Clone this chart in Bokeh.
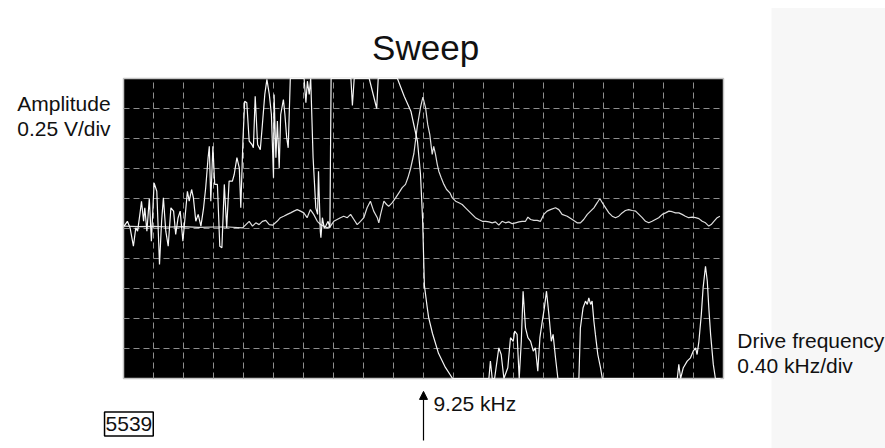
from bokeh.plotting import figure
from bokeh.models import Range1d, Label, Arrow, NormalHead
from bokeh.embed import file_html
from bokeh.resources import INLINE

# ---- data (screen divisions: x 0..20 at 0.40 kHz/div, centre x=10 is 9.25 kHz;
#      y -5..5 at 0.25 V/div) ----
drive_x = [0.02, 0.13, 0.22, 0.33, 0.41, 0.47, 0.56, 0.60, 0.67, 0.71, 0.78, 0.86, 0.93, 1.02,
           1.11, 1.20, 1.27, 1.33, 1.41, 1.49, 1.58, 1.67, 1.74, 1.82, 1.89, 1.98, 2.04, 2.13,
           2.19, 2.27, 2.33, 2.41, 2.49, 2.58, 2.67, 2.74, 2.82, 2.86, 2.91, 2.98, 3.04, 3.13,
           3.21, 3.28, 3.36, 3.44, 3.52, 3.63, 3.69, 3.78, 3.86, 3.91, 3.98, 4.04, 4.11, 4.19,
           4.28, 4.33, 4.39, 4.47, 4.56, 4.63, 4.71, 4.78, 4.86, 4.93, 5.00,
           5.02, 5.08, 5.13, 5.19, 5.24, 5.33, 5.38, 5.44, 5.49, 5.56, 6.02, 6.08, 6.13, 6.19,
           6.24, 6.32, 6.41, 6.47, 6.50, 6.56, 6.58, 6.63, 6.69, 6.74, 6.82, 6.88, 6.92, 7.58,
           7.63, 7.69, 8.19, 8.44, 8.49, 9.13, 9.36, 9.58, 9.69, 9.80, 9.90, 9.97, 10.00, 10.03,
           10.12, 10.17, 10.30, 10.50, 10.73, 10.97,
           12.18, 12.23, 12.29, 12.37, 12.51, 12.59, 12.68, 12.81, 12.90, 12.99, 13.04, 13.12,
           13.19, 13.26, 13.32, 13.40, 13.48, 13.57, 13.66, 13.73, 13.81, 13.88, 13.96, 14.03,
           14.10, 14.18, 14.26, 14.32, 14.40, 14.48,
           15.18, 15.23, 15.32, 15.40, 15.46, 15.51, 15.57, 15.62, 15.68, 15.73, 15.81, 15.90,
           15.96, 18.46, 18.51, 18.57, 18.66, 18.79, 18.90, 18.99, 19.07, 19.12, 19.18, 19.26,
           19.32, 19.40, 19.46, 19.51, 19.57, 19.66, 19.73, 19.90]
drive_y = [0.08, 0.24, 0.02, -0.59, 0.02, -0.09, 0.58, 0.91, 0.24, 0.69, -0.09, 1.00, -0.42, 1.52,
           1.24, -1.20, 0.24, 1.02, -0.09, -0.59, 0.69, 0.58, -0.20, 0.36, 0.58, -0.42, 0.24, 1.24,
           0.91, 1.30, 1.02, 0.24, 0.47, 0.08, 0.69, 1.36, 2.36, 2.74, 0.91, 2.74, 1.47, 1.47,
           -0.59, -0.64, 1.47, 0.02, 1.58, 1.58, 1.80, 2.36, 2.02, 0.69, 2.91, 4.24, 4.19, 2.91,
           2.80, 2.69, 4.41, 2.80, 2.63, 3.47, 4.47, 4.97, 4.47, 3.80, 1.69,
           4.47, 2.36, 3.58, 2.02, 3.80, 4.30, 3.80, 3.02, 2.69, 5.00, 5.00, 4.19, 4.91, 4.47,
           5.00, 2.36, 0.69, 0.47, 1.91, -0.09, -0.31, 0.36, 0.02, 0.08, 0.24, 0.02, 5.00, 5.00,
           4.10, 5.00, 5.00, 4.00, 5.00, 5.00, 4.40, 3.91, 3.40, 2.90, 1.80, 0.30, -0.80, -1.90,
           -2.60, -2.96, -3.50, -4.16, -4.63, -5.00,
           -5.00, -4.42, -5.00, -5.00, -3.98, -4.20, -5.00, -4.64, -3.64, -3.76, -3.42, -3.53,
           -5.00, -3.76, -2.09, -3.31, -3.64, -3.76, -4.09, -3.98, -4.76, -3.64, -3.09, -2.64,
           -2.09, -2.87, -3.76, -3.53, -4.31, -5.00,
           -5.00, -3.31, -2.64, -2.42, -2.53, -2.31, -2.53, -2.42, -3.09, -3.53, -4.20, -4.64,
           -5.00, -5.00, -4.53, -5.00, -4.64, -4.42, -4.31, -4.09, -3.98, -4.20, -3.76, -2.87,
           -1.98, -1.26, -1.76, -2.64, -3.53, -4.53, -5.00, -5.00]

resp_x = [0.00, 0.50, 1.00, 1.50, 2.00, 2.50, 3.00, 3.50, 3.97, 4.08, 4.19, 4.30, 4.41, 4.52,
          4.63, 4.74, 4.86, 4.97, 5.12, 5.23, 5.34, 5.46, 5.57, 5.68, 5.79, 5.90, 6.01, 6.12,
          6.23, 6.34, 6.46, 6.57, 6.68, 6.79, 6.90, 7.01, 7.12, 7.23, 7.34, 7.46, 7.57, 7.68,
          7.79, 7.90, 8.01, 8.12, 8.23, 8.34, 8.46, 8.51, 8.57, 8.68, 8.77, 8.84, 8.96, 9.07,
          9.18, 9.29, 9.40, 9.48, 9.57, 9.68, 9.79, 9.90, 9.98,
          10.07, 10.14, 10.21, 10.29, 10.34, 10.40, 10.46, 10.51, 10.59, 10.68, 10.77, 10.88,
          10.96, 11.07, 11.18, 11.29, 11.40, 11.51, 11.62, 11.73, 11.84, 11.96, 12.07, 12.18,
          12.29, 12.40, 12.51, 12.62, 12.73, 12.84, 12.96, 13.07, 13.18, 13.29, 13.40, 13.48,
          13.57, 13.68, 13.79, 13.90, 14.01, 14.12, 14.23, 14.40, 14.51, 14.62, 14.79, 14.96,
          15.12, 15.23, 15.34, 15.46, 15.57, 15.68, 15.79, 15.88, 15.96, 16.07, 16.18, 16.29,
          16.40, 16.51, 16.62, 16.73, 16.84, 16.96, 17.07, 17.18, 17.29, 17.40, 17.51, 17.62,
          17.73, 17.84, 17.96, 18.07, 18.18, 18.29, 18.40, 18.51, 18.62, 18.73, 18.84, 18.96,
          19.07, 19.18, 19.29, 19.40, 19.51, 19.59, 19.68, 19.79, 19.88]
resp_y = [0.08, 0.06, 0.07, 0.05, 0.06, 0.04, 0.05, 0.05, 0.02, 0.13, 0.24, 0.08, 0.19, 0.13,
          0.24, 0.27, 0.13, 0.11, 0.24, 0.36, 0.41, 0.47, 0.52, 0.58, 0.63, 0.58, 0.52, 0.36,
          0.63, 0.47, 0.24, 0.13, 0.08, 0.02, 0.08, 0.24, 0.30, 0.36, 0.41, 0.36, 0.47, 0.30,
          0.13, 0.24, 0.36, 0.69, 0.91, 0.58, 0.36, 0.19, 0.47, 0.91, 0.80, 0.74, 0.86, 1.02,
          1.19, 1.36, 1.47, 1.69, 2.00, 2.50, 3.38, 4.04, 4.38,
          4.02, 3.47, 3.13, 2.47, 2.74, 2.47, 2.13, 1.91, 1.69, 1.47, 1.30, 1.19,
          1.02, 0.91, 0.86, 0.80, 0.69, 0.58, 0.47, 0.36, 0.30, 0.24, 0.24, 0.22,
          0.19, 0.22, 0.11, 0.24, 0.19, 0.22, 0.16, 0.19, 0.22, 0.24, 0.24, 0.38,
          0.30, 0.27, 0.27, 0.24, 0.47, 0.58, 0.63, 0.69, 0.63, 0.47, 0.41, 0.30,
          0.19, 0.19, 0.30, 0.47, 0.58, 0.69, 0.86, 1.00, 0.86, 0.69, 0.52, 0.41,
          0.36, 0.41, 0.52, 0.60, 0.63, 0.60, 0.58, 0.47, 0.36, 0.24, 0.19, 0.24,
          0.30, 0.36, 0.47, 0.52, 0.58, 0.56, 0.52, 0.52, 0.47, 0.41, 0.36, 0.38,
          0.36, 0.33, 0.24, 0.19, 0.08, 0.13, 0.24, 0.36, 0.41]

grid_x = [1, 2, 3, 4, 5, 6, 7, 8, 9, 10, 11, 12, 13, 14, 15, 16, 17, 18, 19]
grid_y = [-4, -3, -2, -1, 0, 1, 2, 3, 4]
x_lo, x_hi = 0, 20
y_lo, y_hi = -5, 5

# ---- layout: the whole canvas is the frame; 30 px per division ----
W, H = 885, 448
PX = 30.0
X0 = 123.0   # canvas px of screen left edge
Y0 = 228.0   # canvas px (from top) of screen centre line

p = figure(width=W, height=H, output_backend="svg", toolbar_location=None,
           x_range=Range1d(-X0 / PX, (W - X0) / PX),
           y_range=Range1d((Y0 - H) / PX, Y0 / PX),
           x_axis_type=None, y_axis_type=None, min_border=0)
p.outline_line_color = None
p.background_fill_color = "white"
p.border_fill_color = "white"

# grey side panel
p.quad(left=[21.6], right=[40], bottom=[-20], top=[7.35],
       fill_color="#f7f7f7", line_color=None)

# scope screen
p.quad(left=[x_lo], right=[x_hi], bottom=[y_lo], top=[y_hi],
       fill_color="black", line_color="#c4c4c4", line_width=1.5)
p.segment(x0=grid_x, y0=[y_lo] * len(grid_x), x1=grid_x, y1=[y_hi] * len(grid_x),
          line_color="#8e8e8e", line_width=1, line_dash="6 4")
p.segment(x0=[x_lo] * len(grid_y), y0=grid_y, x1=[x_hi] * len(grid_y), y1=grid_y,
          line_color="#8e8e8e", line_width=1, line_dash="6 4")

# traces
p.line(resp_x, resp_y, line_color="#dedede", line_width=1.2)
p.line(drive_x, drive_y, line_color="#f6f6f6", line_width=1.2)

FONT = "Liberation Sans"
def lab(x, y, t, size="21px", align="left", base="alphabetic", **kw):
    p.add_layout(Label(x=x, y=y, text=t, text_font=FONT, text_font_size=size,
                       text_align=align, text_baseline=base, text_color="#111111", **kw))

lab(10.07, 6.05, "Sweep", size="35px", align="center")
lab(-0.43, 4.16, "Amplitude", align="right")
lab(-0.43, 3.34, "0.25 V/div", align="right")
lab(20.46, -3.74, "Drive frequency")
lab(20.46, -4.55, "0.40 kHz/div")
lab(10.33, -5.83, "9.25 kHz")
lab(0.18, -6.52, "5539", align="center", base="middle",
    border_line_color="black", border_line_width=1.5,
    background_fill_color="white", padding=(1, 5))

p.add_layout(Arrow(end=NormalHead(size=8, fill_color="black", line_color="black"),
                   x_start=10, y_start=-7.07, x_end=10, y_end=-5.43,
                   line_color="black", line_width=1.2))

open("out.html", "w").write(file_html(p, INLINE))
